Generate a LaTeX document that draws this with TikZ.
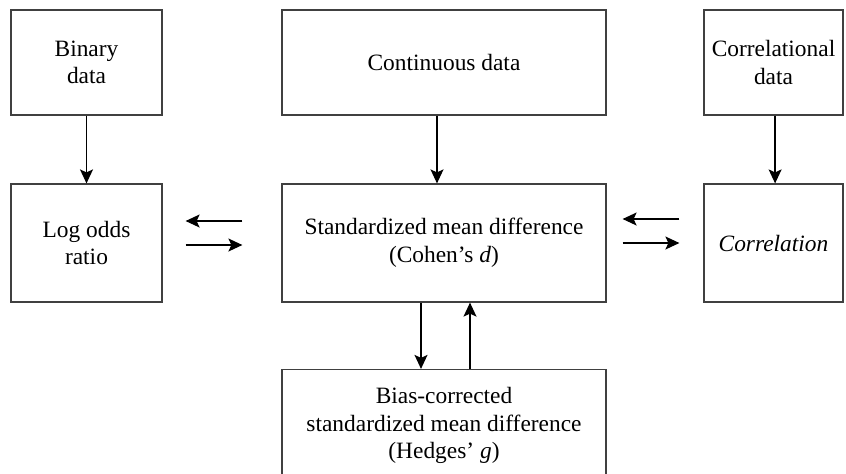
\documentclass[tikz,border=0pt]{standalone}
\usepackage{fontspec}
\setmainfont{Liberation Serif}
\usetikzlibrary{arrows.meta}
\tikzset{
  box/.style={draw=black!75,line width=0.6pt,align=center,inner sep=0pt,
    font=\fontsize{11.7}{13.8}\selectfont},
  narrowbox/.style={box,minimum width=75.5pt},
  widebox/.style={box,minimum width=162pt},
  sidebox/.style={box,minimum width=69.5pt},
  arr/.style={-{Stealth[length=7pt,width=6.5pt,inset=1.5pt]},line width=0.65pt}
}
\begin{document}
\begin{tikzpicture}[x=0.5pt,y=-0.5pt]
\useasboundingbox (0,0) rectangle (846,473);
\clip (0,0) rectangle (846,473);
% top row: kinds of data
\node[narrowbox,minimum height=52.5pt] (bin) at (86.5,62.5) {Binary\\data};
\node[widebox,minimum height=52.5pt] (cont) at (444,62.5) {Continuous data};
\node[sidebox,minimum height=52.5pt] (cdat) at (773.5,62.5) {Correlational\\data};
% middle row: effect sizes
\node[narrowbox,minimum height=59pt] (lor) at (86.5,243) {Log odds\\ratio};
\node[widebox,minimum height=59pt] (smd) at (444,243) {Standardized mean difference\\(Cohen’s \textit{d})};
\node[sidebox,minimum height=59pt] (corr) at (773.5,243) {\textit{Correlation}};
% bottom row
\node[widebox,minimum height=56pt] (hed) at (444,425.5) {Bias-corrected\\standardized mean difference\\(Hedges’ \textit{g})};
% data to effect size
\draw[arr] (bin.south) -- (lor.north);
\draw[arr] ([xshift=-3.5pt]cont.south) -- ([xshift=-3.5pt]smd.north);
\draw[arr] ([xshift=0.8pt]cdat.south) -- ([xshift=0.8pt]corr.north);
% conversions left
\draw[arr] ([xshift=-19.5pt,yshift=11pt]smd.west) -- ([xshift=11.5pt,yshift=11pt]lor.east);
\draw[arr] ([xshift=11.5pt,yshift=-1pt]lor.east) -- ([xshift=-19.5pt,yshift=-1pt]smd.west);
% conversions right
\draw[arr] ([xshift=-12pt,yshift=12pt]corr.west) -- ([xshift=8pt,yshift=12pt]smd.east);
\draw[arr] ([xshift=8pt]smd.east) -- ([xshift=-12pt]corr.west);
% cohen d <-> hedges g
\draw[arr] ([xshift=-11.5pt]smd.south) -- ([xshift=-11.5pt]hed.north);
\draw[arr] ([xshift=13pt]hed.north) -- ([xshift=13pt]smd.south);
\end{tikzpicture}
\end{document}
